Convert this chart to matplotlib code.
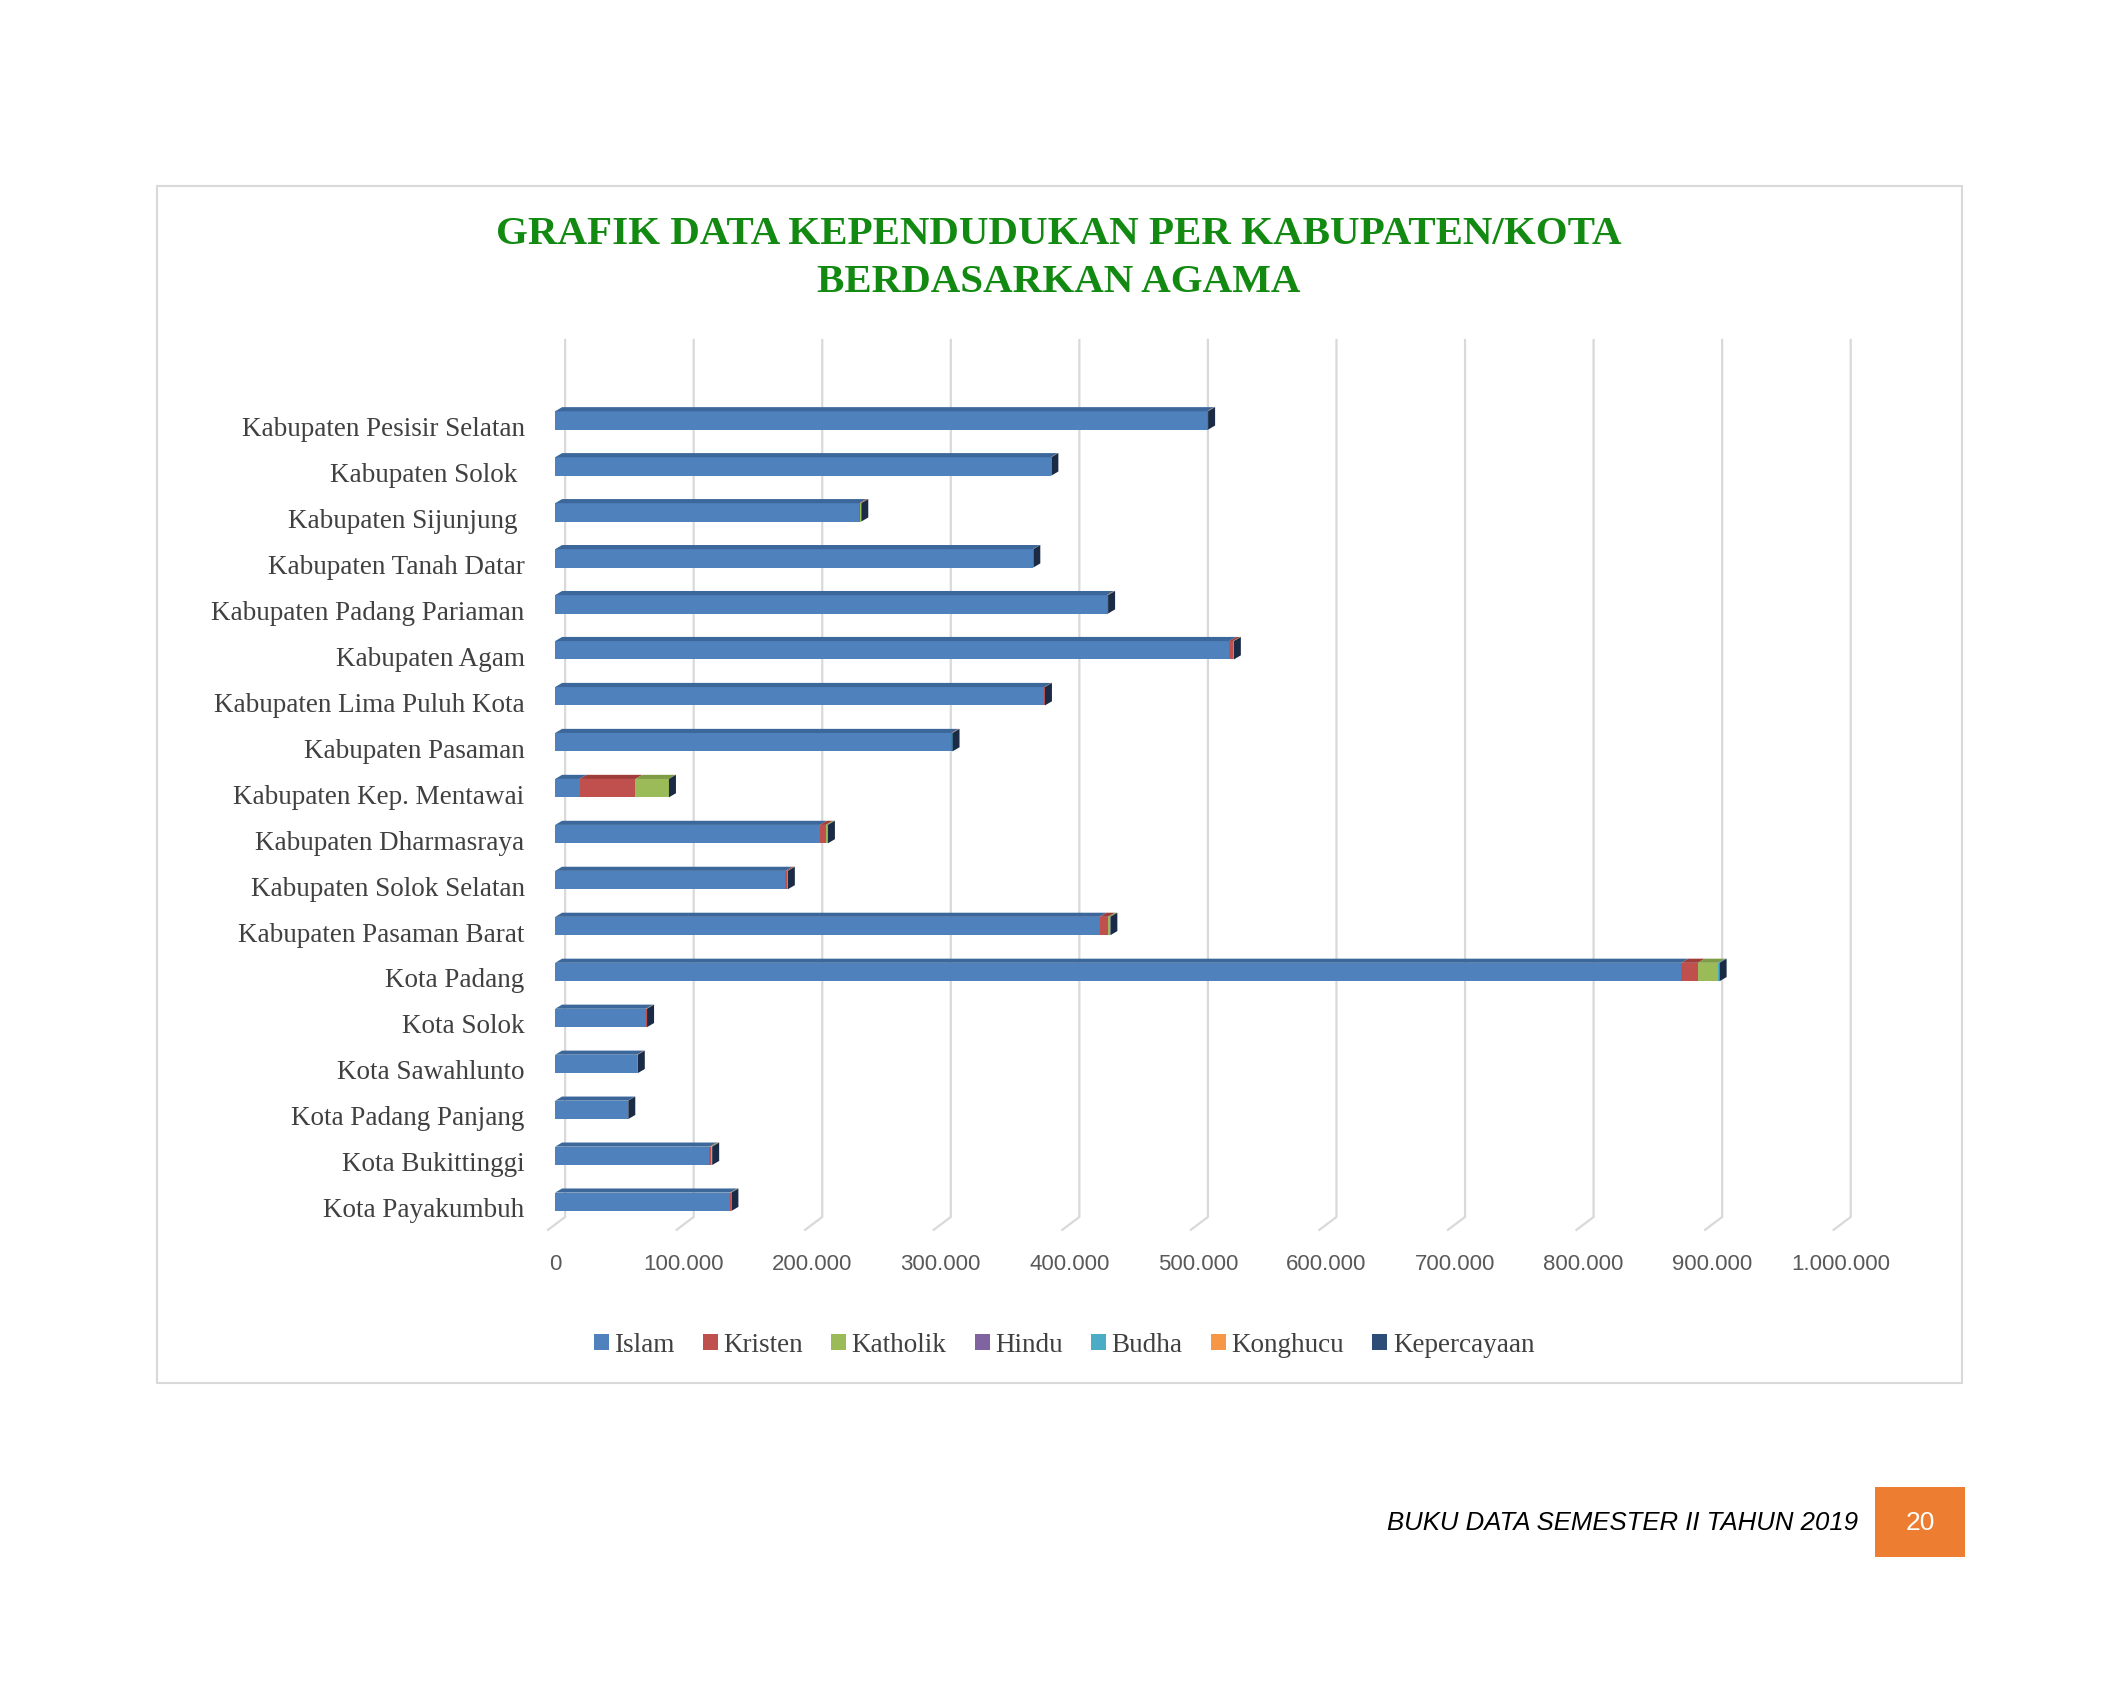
import numpy as np
import matplotlib.pyplot as plt
from matplotlib.patches import Patch, Polygon, Rectangle
from matplotlib.ticker import FuncFormatter

# data per kabupaten/kota (top to bottom as in chart)
wilayah = ['Kabupaten Pesisir Selatan', 'Kabupaten Solok ', 'Kabupaten Sijunjung ',
           'Kabupaten Tanah Datar', 'Kabupaten Padang Pariaman', 'Kabupaten Agam',
           'Kabupaten Lima Puluh Kota', 'Kabupaten Pasaman', 'Kabupaten Kep. Mentawai',
           'Kabupaten Dharmasraya', 'Kabupaten Solok Selatan', 'Kabupaten Pasaman Barat',
           'Kota Padang', 'Kota Solok', 'Kota Sawahlunto', 'Kota Padang Panjang',
           'Kota Bukittinggi', 'Kota Payakumbuh']
islam = [507000, 385500, 236500, 371600, 429000, 524500, 380500, 308000, 19000,
         206000, 179000, 423500, 876000, 70700, 63500, 56700, 120000, 136000]
kristen = [600, 300, 1000, 200, 700, 2800, 300, 800, 43500,
           4500, 1500, 6500, 13000, 500, 500, 100, 1000, 600]
katholik = [300, 200, 600, 150, 400, 600, 200, 300, 26000,
            1500, 500, 1800, 15500, 300, 300, 100, 800, 300]
hindu = [10, 5, 20, 5, 10, 20, 5, 10, 10, 100, 10, 30, 200, 5, 5, 5, 20, 10]
budha = [20, 10, 30, 10, 30, 40, 10, 20, 20, 100, 20, 60, 1000, 20, 10, 10, 300, 200]
konghucu = [0, 0, 0, 0, 0, 0, 0, 0, 0, 0, 0, 5, 100, 0, 0, 0, 50, 10]
kepercayaan = [5, 5, 5, 5, 5, 5, 5, 5, 30, 5, 5, 5, 20, 0, 0, 0, 5, 5]

agama = ['Islam', 'Kristen', 'Katholik', 'Hindu', 'Budha', 'Konghucu', 'Kepercayaan']
series = [islam, kristen, katholik, hindu, budha, konghucu, kepercayaan]
warna = ['#4F81BD', '#C0504D', '#9BBB59', '#8064A2', '#4BACC6', '#F79646', '#2C4D75']
warna_atas = ['#3C679A', '#9E3D3A', '#7E9B45', '#654F84', '#3A8CA2', '#CC7A36', '#1F3858']

fig = plt.figure(figsize=(21.26, 16.94), dpi=100)

# chart frame
fig.patches.append(Rectangle((0.0738, 0.1836), 0.849, 0.7066, transform=fig.transFigure,
                             fill=False, edgecolor='#D9D9D9', linewidth=1.5))

fig.text(0.498, 1 - 234 / 1694, 'GRAFIK DATA KEPENDUDUKAN PER KABUPATEN/KOTA',
         ha='center', va='center', fontsize=29.5, fontweight='bold',
         family='Liberation Serif', color='#128A12')
fig.text(0.498, 1 - 282 / 1694, 'BERDASARKAN AGAMA',
         ha='center', va='center', fontsize=29.5, fontweight='bold',
         family='Liberation Serif', color='#128A12')

ax = fig.add_axes([0.2611, 0.2816, 0.6047, 0.5177])
ymin, ymax = 17.33, -1.751
ax.set_xlim(0, 1000000)
ax.set_ylim(ymin, ymax)

y = np.arange(len(wilayah))
h = 0.40
dx = 5450      # depth of the 3d bars (x)
dy = 0.09      # depth of the 3d bars (y)

# gridlines on the back wall with a short floor line
ticks = np.arange(0, 1000001, 100000)
for t in ticks:
    ax.plot([t - 5500, t + 7800, t + 7800], [ymin + 0.28, ymin, ymax], color='#D9D9D9',
            linewidth=1.6, zorder=0, clip_on=False, solid_joinstyle='miter')

left = np.zeros(len(wilayah))
for nama, vals, c, ct in zip(agama, series, warna, warna_atas):
    vals = np.array(vals, dtype=float)
    ax.barh(y, vals, left=left, height=h, color=c, label=nama, zorder=3)
    # top face of the 3d bar
    for yi, l, v in zip(y, left, vals):
        if v <= 0:
            continue
        top = yi - h / 2
        ax.add_patch(Polygon([(l, top), (l + v, top), (l + v + dx, top - dy), (l + dx, top - dy)],
                             closed=True, facecolor=ct, edgecolor='none', zorder=3))
    left = left + vals

# end caps
for yi, tot in zip(y, left):
    top = yi - h / 2
    ax.add_patch(Polygon([(tot, top), (tot + dx, top - dy), (tot + dx, yi + h / 2 - dy), (tot, yi + h / 2)],
                         closed=True, facecolor='#1B2A45', edgecolor='none', zorder=4))

ax.set_xticks(ticks)
ax.xaxis.set_major_formatter(FuncFormatter(lambda v, p: f'{int(v):,}'.replace(',', '.')))
ax.set_yticks(y + 0.13)
ax.set_yticklabels(wilayah, family='Liberation Serif', fontsize=19.5, color='#404040')
for lab in ax.get_xticklabels():
    lab.set_family('Liberation Sans')
    lab.set_fontsize(16)
    lab.set_color('#595959')
ax.tick_params(axis='y', length=0, pad=22)
ax.tick_params(axis='x', length=0, pad=27)
for s in ax.spines.values():
    s.set_visible(False)

handles = [Patch(facecolor=c, label=n) for n, c in zip(agama, warna)]
fig.legend(handles=handles, loc='center', bbox_to_anchor=(0.5005, 1 - 1345 / 1694), ncol=7,
           frameon=False, handlelength=0.55, handleheight=0.55, handletextpad=0.2,
           columnspacing=1.05, prop={'family': 'Liberation Serif', 'size': 19.5},
           labelcolor='#404040')

# footer
fig.text(1858 / 2126, 1 - 1523 / 1694, 'BUKU DATA SEMESTER II TAHUN 2019', ha='right', va='center',
         fontsize=18.5, style='italic', family='Liberation Sans', color='black')
fig.patches.append(Rectangle((1875 / 2126, 1 - 1557 / 1694), 90 / 2126, 70 / 1694,
                             transform=fig.transFigure, facecolor='#ED7D31', edgecolor='none'))
fig.text(1920 / 2126, 1 - 1523 / 1694, '20', ha='center', va='center', fontsize=19,
         family='Liberation Sans', color='white')

fig.savefig('out.png', dpi=100, facecolor='white')
